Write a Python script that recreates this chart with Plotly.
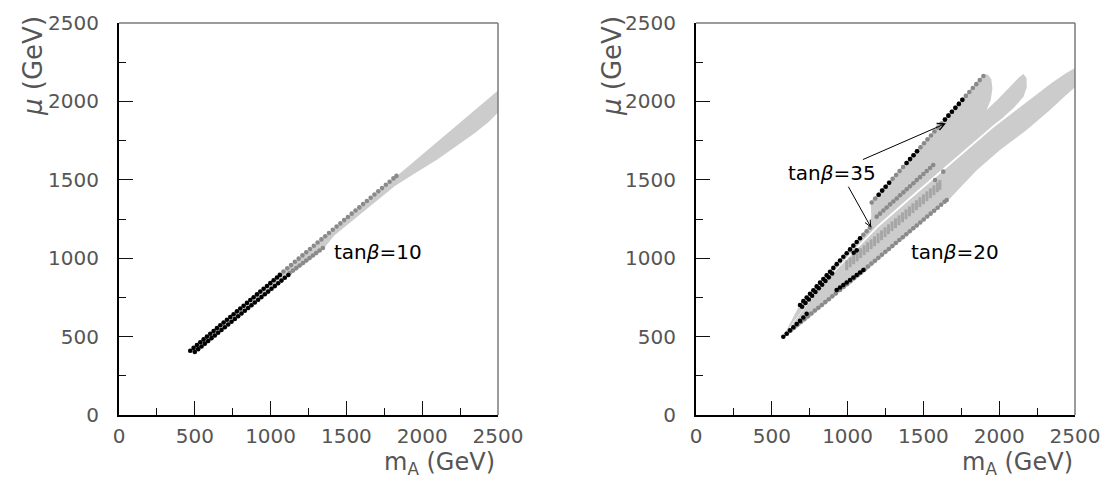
import plotly.graph_objects as go

# ---------------- LEFT PANEL (tan beta = 10) ----------------
tb10_band_x = [455, 520, 700, 900, 1060, 1300, 1550, 1830, 2050, 2250, 2400, 2500,
               2500, 2440, 2350, 2250, 2100, 1950, 1820, 1640, 1420, 1350, 1250, 1120, 950, 750, 560, 490, 460]
tb10_band_y = [400, 450, 598, 762, 893, 1090, 1295, 1525, 1700, 1865, 1990, 2070,
               1930, 1870, 1800, 1730, 1630, 1540, 1460, 1318, 1145, 1060, 980, 885, 750, 590, 432, 400, 396]

tb10_gray_up_x = [1060, 1085, 1110, 1135, 1160, 1185, 1210, 1235, 1260, 1285, 1310, 1335, 1360, 1385, 1410, 1435,
                  1460, 1485, 1510, 1535, 1560, 1585, 1610, 1635, 1660, 1685, 1710, 1735, 1760, 1785, 1810, 1830]
tb10_gray_up_y = [895, 915, 936, 956, 977, 997, 1018, 1038, 1059, 1079, 1100, 1120, 1140, 1161, 1181, 1202,
                  1222, 1243, 1263, 1284, 1304, 1324, 1345, 1365, 1386, 1406, 1427, 1447, 1468, 1488, 1509, 1525]

tb10_gray_lo_x = [1125, 1147, 1169, 1191, 1213, 1235, 1257, 1279, 1301, 1323, 1345]
tb10_gray_lo_y = [905, 921, 937, 953, 969, 985, 1001, 1017, 1033, 1049, 1065]

tb10_black_up_x = [470, 492, 514, 536, 558, 580, 602, 624, 646, 668, 690, 712, 734, 756, 778, 800, 822, 844,
                   866, 888, 910, 932, 954, 976, 998, 1020, 1042, 1062]
tb10_black_up_y = [410, 428, 446, 464, 482, 500, 518, 536, 554, 572, 590, 607, 625, 643, 661, 679, 697, 715,
                   733, 751, 769, 787, 805, 823, 841, 859, 877, 893]

tb10_black_lo_x = [500, 522, 544, 566, 588, 610, 632, 654, 676, 698, 720, 742, 764, 786, 808, 830, 852, 874,
                   896, 918, 940, 962, 984, 1006, 1028, 1050, 1072, 1094, 1117]
tb10_black_lo_y = [402, 420, 437, 455, 472, 490, 507, 525, 542, 560, 577, 595, 612, 630, 647, 665, 682, 700,
                   717, 735, 752, 770, 787, 805, 822, 840, 857, 875, 893]

# ---------------- RIGHT PANEL (tan beta = 35 and 20) ----------------
tb35_band_x = [578, 690, 800, 900, 1000, 1090, 1148, 1156, 1152, 1300, 1450, 1600, 1750, 1896, 1925, 1948, 1955,
               1945, 1917, 1990, 2070, 2130, 2160, 2180, 2182, 2160, 2100, 2020, 1961, 1800, 1600, 1400, 1200,
               1050, 850, 650]
tb35_band_y = [505, 715, 832, 945, 1050, 1150, 1212, 1270, 1362, 1520, 1685, 1850, 2012, 2172, 2172, 2142, 2082,
               2012, 1945, 2012, 2092, 2152, 2174, 2150, 2090, 2030, 1962, 1892, 1848, 1715, 1548, 1380, 1212,
               1062, 852, 602]

tb20_band_x = [580, 650, 850, 1050, 1200, 1400, 1600, 1800, 1961, 2100, 2225, 2350, 2440, 2500,
               2500, 2440, 2335, 2181, 2005, 1850, 1675, 1500, 1300, 1100, 950, 800, 650]
tb20_band_y = [495, 598, 848, 1048, 1196, 1364, 1530, 1697, 1832, 1935, 2030, 2120, 2180, 2213,
               2090, 2040, 1945, 1818, 1690, 1560, 1380, 1235, 1065, 900, 785, 662, 540]

# tan beta = 35 upper row (grey)
tb35_g1_x = [1159, 1182, 1205, 1228, 1251, 1274, 1297, 1320, 1343, 1366, 1389, 1412, 1435, 1458, 1481, 1504, 1527,
             1550, 1573, 1596, 1619, 1642, 1665, 1688, 1711, 1734, 1757, 1780, 1803, 1826, 1849, 1872, 1896]
tb35_g1_y = [1355, 1380, 1405, 1431, 1456, 1481, 1506, 1531, 1556, 1582, 1607, 1632, 1657, 1682, 1708, 1733, 1758,
             1783, 1808, 1833, 1859, 1884, 1909, 1934, 1959, 1984, 2010, 2035, 2060, 2085, 2110, 2136, 2162]
# tan beta = 35 second row (grey)
tb35_g2_x = [1104, 1126, 1148, 1192, 1214, 1236, 1258, 1280, 1302, 1324, 1346, 1368, 1390, 1412, 1434, 1456, 1478,
             1500, 1522, 1544, 1565, 1577, 1631]
tb35_g2_y = [1150, 1172, 1195, 1265, 1284, 1304, 1323, 1343, 1362, 1381, 1401, 1420, 1440, 1459, 1478, 1498, 1517,
             1537, 1556, 1575, 1594, 1499, 1552]
# tan beta = 35 black points
tb35_black_x = [686, 708, 730, 752, 774, 796, 818, 840, 862, 884, 906, 928, 950, 972, 994, 1016, 1038, 1060, 1082,
                700, 722, 744, 766, 788, 810, 832, 854, 876, 898,
                1205, 1228, 1251, 1274, 1389, 1412, 1435, 1458, 1642, 1665, 1688, 1711, 1734, 1757]
tb35_black_y = [702, 726, 749, 773, 796, 820, 844, 867, 891, 914, 938, 962, 985, 1009, 1032, 1056, 1080, 1103, 1127,
                690, 714, 737, 761, 784, 808, 831, 855, 878, 902,
                1405, 1431, 1456, 1481, 1607, 1632, 1657, 1682, 1884, 1909, 1934, 1959, 1984, 2010]

# tan beta = 20 rows
tb20_g3_x = [994, 1017, 1040, 1063, 1086, 1109, 1132, 1155, 1178, 1201, 1224, 1247, 1270, 1293, 1316, 1339, 1362,
             1385, 1408, 1431, 1454, 1477, 1500, 1523, 1546, 1569, 1592, 1609]
tb20_g3_y = [955, 974, 993, 1012, 1032, 1051, 1070, 1089, 1108, 1127, 1146, 1166, 1185, 1204, 1223, 1242, 1261,
             1280, 1299, 1319, 1338, 1357, 1376, 1395, 1414, 1433, 1452, 1467]
tb20_g4_x = [600, 623, 646, 669, 692, 715, 738, 761, 784, 807, 830, 853, 876, 899, 922,
             950, 973, 996, 1019, 1042, 1065, 1088, 1111, 1134, 1157, 1180, 1203, 1226, 1249, 1272, 1295, 1318,
             1341, 1364, 1387, 1410, 1433, 1456, 1479, 1502, 1525, 1548, 1571, 1594, 1617, 1640, 1654]
tb20_g4_y = [520, 538, 556, 575, 593, 611, 629, 647, 666, 684, 702, 720, 738, 757, 775,
             797, 816, 834, 853, 872, 891, 909, 928, 947, 966, 984, 1003, 1022, 1041, 1059, 1078, 1097,
             1116, 1134, 1153, 1172, 1191, 1209, 1228, 1247, 1266, 1284, 1303, 1322, 1341, 1360, 1371]
tb20_black_x = [576, 598, 620, 642, 664, 686, 708, 730, 928, 950, 972, 994, 1016, 1038, 1060, 1082, 1104, 1040, 1060]
tb20_black_y = [499, 518, 540, 560, 580, 600, 622, 645, 797, 813, 829, 845, 861, 877, 893, 909, 925, 1035, 1050]

# axis tick values
tick_vals = [0, 500, 1000, 1500, 2000, 2500]
tick_text = ["0", "500", "1000", "1500", "2000", "2500"]

LIGHT = "#cccccc"
MID = "#8a8a8a"
DASH = "#a6a6a6"
FONT = "DejaVu Sans"

fig = go.Figure()


def poly(x, y, xa, ya):
    fig.add_trace(go.Scatter(x=x, y=y, fill="toself", fillcolor=LIGHT, mode="lines",
                             line=dict(width=0, color=LIGHT), xaxis=xa, yaxis=ya, hoverinfo="skip"))


def dots(x, y, xa, ya, color, size=4.6, symbol="circle"):
    fig.add_trace(go.Scatter(x=x, y=y, mode="markers", xaxis=xa, yaxis=ya,
                             marker=dict(color=color, size=size, symbol=symbol, line=dict(width=0))))


# left
poly(tb10_band_x, tb10_band_y, "x", "y")
dots(tb10_gray_up_x, tb10_gray_up_y, "x", "y", MID)
dots(tb10_gray_lo_x, tb10_gray_lo_y, "x", "y", MID)
dots(tb10_black_up_x, tb10_black_up_y, "x", "y", "black")
dots(tb10_black_lo_x, tb10_black_lo_y, "x", "y", "black")

# right
poly(tb20_band_x, tb20_band_y, "x2", "y2")
poly(tb35_band_x, tb35_band_y, "x2", "y2")
fig.add_trace(go.Scatter(x=tb20_g3_x, y=tb20_g3_y, mode="markers", xaxis="x2", yaxis="y2",
                         marker=dict(color=DASH, size=7, symbol="line-ns", line=dict(width=3, color=DASH))))
dots(tb20_g4_x, tb20_g4_y, "x2", "y2", MID)
dots(tb35_g1_x, tb35_g1_y, "x2", "y2", MID)
dots(tb35_g2_x, tb35_g2_y, "x2", "y2", MID)
dots(tb35_black_x, tb35_black_y, "x2", "y2", "black")
dots(tb20_black_x, tb20_black_y, "x2", "y2", "black")

axis_common = dict(
    range=[0, 2500], tickvals=tick_vals, ticktext=tick_text,
    ticks="inside", ticklen=14, tickwidth=1.3, tickcolor="#111",
    minor=dict(dtick=250, tick0=0, ticks="inside", ticklen=7, tickwidth=1.3, tickcolor="#111"),
    showline=True, linecolor="black", linewidth=2, mirror=False,
    showgrid=False, zeroline=False, automargin=False,
    tickfont=dict(family=FONT, size=20, color="#555"),
    fixedrange=True,
)

fig.update_layout(
    width=1101, height=479,
    margin=dict(l=0, r=0, t=0, b=0),
    paper_bgcolor="white", plot_bgcolor="white",
    showlegend=False,
    xaxis=dict(domain=[119 / 1101, 498 / 1101], anchor="y", ticklabelstandoff=2, **axis_common),
    yaxis=dict(domain=[64 / 479, 456 / 479], anchor="x", ticklabelstandoff=14, **axis_common),
    xaxis2=dict(domain=[696 / 1101, 1075 / 1101], anchor="y2", ticklabelstandoff=2, **axis_common),
    yaxis2=dict(domain=[64 / 479, 456 / 479], anchor="x2", ticklabelstandoff=14, **axis_common),
)

# grey top and right frame lines
for xr, yr in (("x domain", "y domain"), ("x2 domain", "y2 domain")):
    fig.add_shape(type="line", xref=xr, yref=yr, x0=0, x1=1, y0=1, y1=1, line=dict(color="#7a7a7a", width=1.5))
    fig.add_shape(type="line", xref=xr, yref=yr, x0=1, x1=1, y0=0, y1=1, line=dict(color="#7a7a7a", width=1.5))

# second arrow (from the tanβ=35 label down to the lower row), drawn as a path with an open head
fig.add_shape(type="path", xref="x2", yref="y2",
              path="M 1005 1456 L 1152 1201 M 1149 1246 L 1152 1201 L 1115 1227",
              line=dict(color="black", width=1))

xtitle_font = dict(family=FONT, size=24, color="#555")
ytitle_font = dict(family=FONT, size=26, color="#555")
label_font = dict(family=FONT, size=20, color="black")

ann = [
    dict(text="m<sub>A</sub> (GeV)", x=497 / 1101, y=16 / 479, xref="paper", yref="paper",
         xanchor="right", yanchor="middle", showarrow=False, font=xtitle_font),
    dict(text="m<sub>A</sub> (GeV)", x=1075 / 1101, y=16 / 479, xref="paper", yref="paper",
         xanchor="right", yanchor="middle", showarrow=False, font=xtitle_font),
    dict(text="<i>μ</i> (GeV)", x=33 / 1101, y=(479 - 66) / 479, xref="paper", yref="paper",
         xanchor="center", yanchor="middle", textangle=-90, showarrow=False, font=ytitle_font),
    dict(text="<i>μ</i> (GeV)", x=612 / 1101, y=(479 - 66) / 479, xref="paper", yref="paper",
         xanchor="center", yanchor="middle", textangle=-90, showarrow=False, font=ytitle_font),
    dict(text="tan<i>β</i>=10", x=1403, y=1041, xref="x", yref="y", xanchor="left", yanchor="middle",
         showarrow=False, font=label_font),
    # tanβ=35 label carrying the upper arrow
    dict(text="tan<i>β</i>=35", x=1649, y=1860, ax=897, ay=1543, xref="x2", yref="y2", axref="x2", ayref="y2",
         showarrow=True, arrowhead=5, arrowsize=1.4, arrowwidth=1, arrowcolor="black", standoff=0,
         font=label_font),
    dict(text="tan<i>β</i>=20", x=1405, y=1040, xref="x2", yref="y2", xanchor="left", yanchor="middle",
         showarrow=False, font=label_font),
]
fig.update_layout(annotations=ann)

fig.write_html("out.html", config={"displayModeBar": False},
               post_script="document.body.style.margin='0';document.body.style.overflow='hidden';")
